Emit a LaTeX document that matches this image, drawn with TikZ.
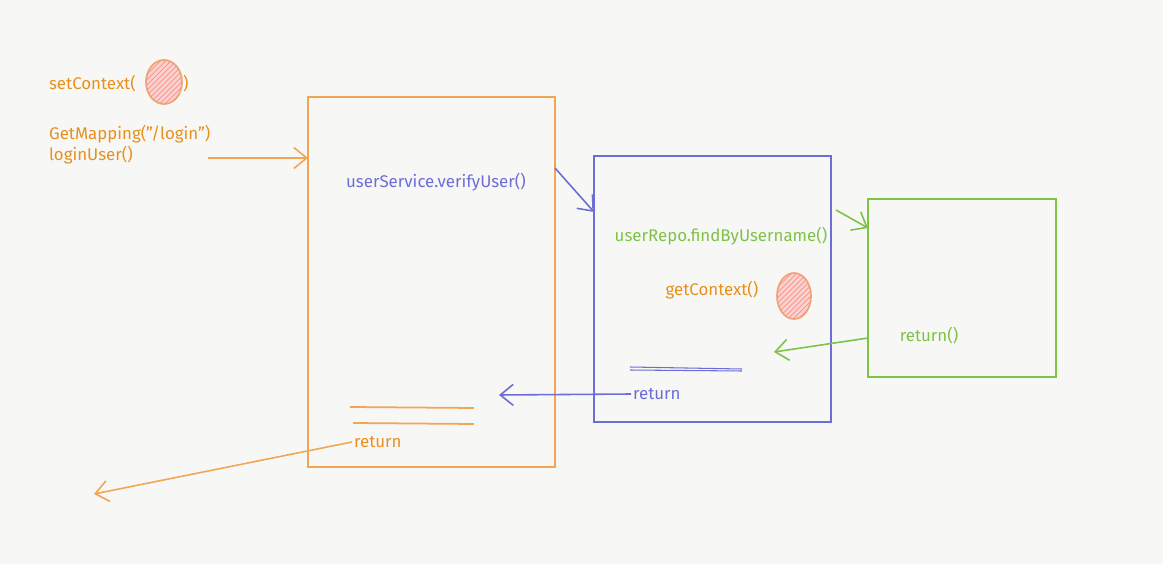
\documentclass[tikz,border=0pt]{standalone}
\usepackage{fontspec}
\setmainfont{Fira Sans}
\usetikzlibrary{arrows.meta,patterns,positioning}
\definecolor{paper}{HTML}{F7F7F5}
\definecolor{sketchorange}{HTML}{F2A553}
\definecolor{textorange}{HTML}{E8901E}
\definecolor{sketchblue}{HTML}{6D6DD8}
\definecolor{sketchgreen}{HTML}{7EC246}
\definecolor{blobpink}{HTML}{F9D3CE}
\definecolor{blobedge}{HTML}{EDA878}
\tikzset{
	thick,
	every node/.append style={font=\fontsize{9.6}{11.5}\selectfont},
	box/.style = {
			draw,
			line width = 1.1pt,
			inner sep  = 0pt,
			outer sep  = 0pt,
		},
	label/.style = {inner sep=1pt},
	sketcharrow/.style = {
			line width = 0.9pt,
			-{Straight Barb[length=2.6mm,width=4.2mm]},
		},
	blob/.style = {
			draw=blobedge,
			line width=1pt,
			fill=blobpink,
			postaction={pattern=north east lines, pattern color=red!45},
		}
}

\begin{document}
\begin{tikzpicture}[x=0.02cm,y=-0.02cm]
			      \fill[paper] (0,0) rectangle (1163,564);
			      \useasboundingbox (0,0) rectangle (1163,564);
			      % the three frames
			      \node[box,draw=sketchorange,minimum width=4.94cm,minimum height=7.4cm] at (431.5,282) (svc) {};
			      \node[box,draw=sketchblue,minimum width=4.74cm,minimum height=5.32cm] at (712.5,289) (repo) {};
			      \node[box,draw=sketchgreen,minimum width=3.76cm,minimum height=3.56cm] at (962,288) (db) {};
			      % left side labels
			      \node[label,text=textorange,anchor=west] at (47,84) (setctx) {setContext(};
			      \draw[blob] (164,82) ellipse [x radius=0.36cm, y radius=0.44cm];
			      \node[label,text=textorange,anchor=west] at (181,84) (setclose) {)};
			      \node[label,text=textorange,anchor=west] at (47,134) (mapping) {GetMapping("/login")};
			      \node[label,text=textorange,anchor=west] at (47,155) (login) {loginUser()};
			      % texts inside the frames
			      \node[label,text=sketchblue] at (436,182) (verify) {userService.verifyUser()};
			      \node[label,text=sketchgreen] at (721,236) (find) {userRepo.findByUsername()};
			      \node[label,text=textorange] at (712,290) (getctx) {getContext()};
			      \draw[blob] (794,296) ellipse [x radius=0.34cm, y radius=0.46cm];
			      \node[label,text=sketchgreen] at (929,336) (dbret) {return()};
			      \node[label,text=sketchblue,anchor=west] at (631,394) (reporet) {return};
			      \node[label,text=textorange,anchor=west] at (352,442) (svcret) {return};
			      % underlines
			      \draw[sketchblue,line width=0.6pt] (630,367) -- (742,369);
			      \draw[sketchblue,line width=0.6pt] (630,370) -- (742,371);
			      \draw[sketchorange,line width=1pt] (350,407) -- (474,408);
			      \draw[sketchorange,line width=1pt] (353,423) -- (474,424);
			      % calls
			      \coordinate (reqin) at (208,158);
			      \draw[sketcharrow,sketchorange] (reqin) -- (reqin -| svc.west);
			      \draw[sketcharrow,sketchblue] (svc.east |- 0,168) -- (repo.west |- 0,212);
			      \draw[sketcharrow,sketchgreen] (836,210) -- (db.west |- 0,228);
			      % returns
			      \coordinate (dbback) at (774,352);
			      \draw[sketcharrow,sketchgreen] (db.west |- 0,338) -- (dbback);
			      \coordinate (repoback) at (499,395);
			      \draw[sketcharrow,sketchblue] (reporet.west) -- (repoback);
			      \coordinate (out) at (94,494);
			      \draw[sketcharrow,sketchorange] (svcret.west) -- (out);
		      \end{tikzpicture}
\end{document}
